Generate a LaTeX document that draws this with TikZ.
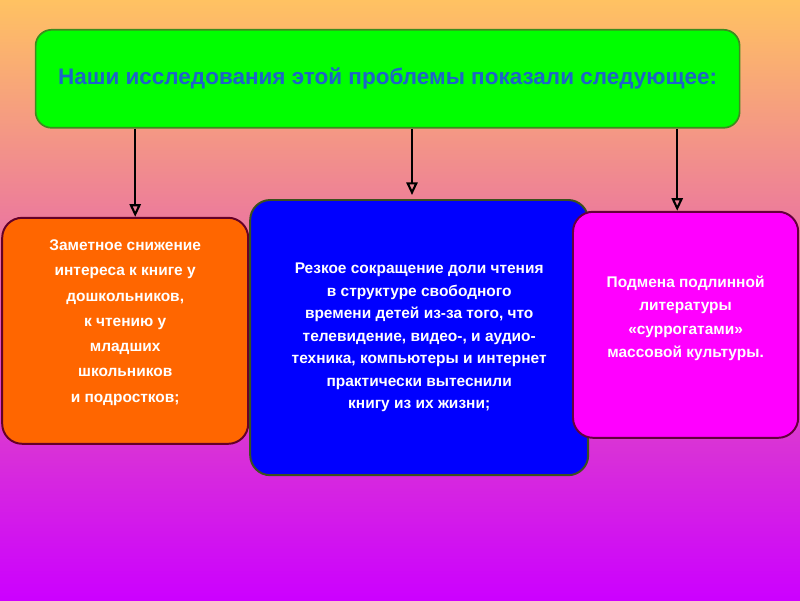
\documentclass[tikz,border=0pt]{standalone}
\usepackage{fontspec}
\setmainfont{Liberation Sans}
\usepackage{xcolor}
\usepackage{tikz}
\usetikzlibrary{arrows.meta, positioning, calc}
\definecolor{bgtop}{RGB}{255, 194, 98}
\definecolor{bgmid}{RGB}{232, 118, 176}
\definecolor{bgbot}{RGB}{204, 0, 255}
\definecolor{headgreen}{RGB}{0, 255, 0}
\definecolor{headedge}{RGB}{60, 140, 30}
\definecolor{headtext}{RGB}{30, 100, 200}
\definecolor{leftfill}{RGB}{255, 102, 0}
\definecolor{leftedge}{RGB}{100, 0, 40}
\definecolor{midfill}{RGB}{0, 0, 255}
\definecolor{midedge}{RGB}{60, 80, 30}
\definecolor{rightfill}{RGB}{255, 0, 255}
\definecolor{rightedge}{RGB}{100, 0, 60}
\tikzset{
    headbox/.style={rectangle, rounded corners=0.4cm, draw=headedge, fill=headgreen, line width=1.2pt, minimum width=17.6cm, minimum height=2.45cm, text=headtext, font=\fontsize{16}{18}\selectfont\bfseries},
    topicbox/.style={rectangle, rounded corners=0.5cm, line width=1.4pt, text=white, align=center, font=\fontsize{11}{17}\selectfont\bfseries},
    arrow/.style={line width=1.5pt, -{Triangle[open, length=9pt, width=8pt]}}
}

\begin{document}
\begin{tikzpicture}
    \shade[top color=bgtop, middle color=bgmid, bottom color=bgbot] (0,0) rectangle (20,15);
    \node (head) [headbox] at (9.69,13.03) {Наши исследования этой проблемы показали следующее:};
    \node (left) [topicbox, draw=leftedge, fill=leftfill, minimum width=6.15cm, minimum height=5.65cm, font=\fontsize{11}{18}\selectfont\bfseries, text depth=14pt] at (3.13,6.73) {Заметное снижение\\интереса к книге у\\дошкольников,\\к чтению у\\младших\\школьников\\и подростков;};
    \node (mid) [topicbox, draw=midedge, fill=midfill, minimum width=8.45cm, minimum height=6.88cm, font=\fontsize{11}{16}\selectfont\bfseries] at (10.48,6.56) {Резкое сокращение доли чтения\\в структуре свободного\\времени детей из-за того, что\\телевидение, видео-, и аудио-\\техника, компьютеры и интернет\\практически вытеснили\\книгу из их жизни;};
    \node (right) [topicbox, draw=rightedge, fill=rightfill, minimum width=5.63cm, minimum height=5.65cm, font=\fontsize{11}{16.5}\selectfont\bfseries, text depth=11.5pt] at (17.14,6.88) {Подмена подлинной\\литературы\\«суррогатами»\\массовой культуры.};

    \draw [arrow] ([xshift=0.25cm]left.north |- head.south) -- ([xshift=0.25cm]left.north);
    \draw [arrow, shorten >=0.1cm] ([xshift=-0.18cm]mid.north |- head.south) -- ([xshift=-0.18cm]mid.north);
    \draw [arrow] ([xshift=-0.21cm]right.north |- head.south) -- ([xshift=-0.21cm]right.north);
\end{tikzpicture}
\end{document}
